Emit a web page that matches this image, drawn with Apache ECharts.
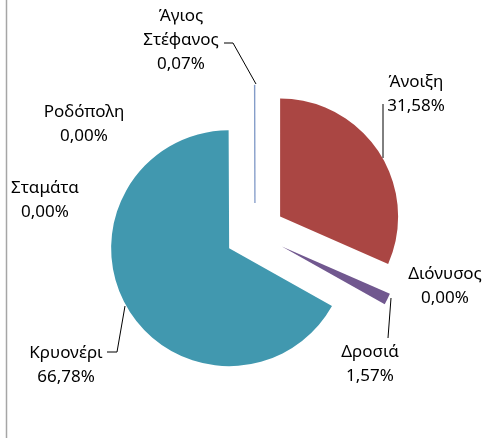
<!DOCTYPE html>
<html>
<head>
<meta charset="utf-8">
<script src="https://cdn.jsdelivr.net/npm/echarts@6/dist/echarts.min.js"></script>
<style>html,body{margin:0;padding:0;background:#fff}#c{width:493px;height:438px}</style>
</head>
<body>
<div id="c"></div>
<script>
var categories = ['Άγιος Στέφανος', 'Άνοιξη', 'Διόνυσος', 'Δροσιά', 'Κρυονέρι', 'Σταμάτα', 'Ροδόπολη'];
var values = [0.07, 31.58, 0.00, 1.57, 66.78, 0.00, 0.00];
var colors = ['#4572A7', '#AA4643', '#89A54E', '#71588F', '#4198AF', '#DB843D', '#93A9CF'];

// label placement (centre of text block) and leader lines, per category index
var labelPos = [[181, 40], [416, 94], [445, 286], [370, 364], [66, 365], [45, 200], [84, 124]];
var leaders = [
  [[256, 84], [233, 43], [224, 43]],
  [[383, 158], [383, 104]],
  null,
  [[391, 298], [388, 338]],
  [[125, 306], [117, 352], [107, 352]],
  null,
  null
];

function labelText(i) {
  return categories[i].replace(' ', '\n') + '\n' + values[i].toFixed(2).replace('.', ',') + '%';
}

var graphics = [{type: 'line', shape: {x1: 6.5, y1: 0, x2: 6.5, y2: 438}, style: {stroke: '#A6A6A6', lineWidth: 1.5}}];
categories.forEach(function (c, i) {
  graphics.push({
    type: 'text', x: labelPos[i][0], y: labelPos[i][1],
    style: {
      text: labelText(i), align: 'center', verticalAlign: 'middle',
      fontFamily: 'Noto Sans', fontSize: 17, lineHeight: 24, fill: '#000'
    }
  });
  if (leaders[i]) {
    graphics.push({type: 'polyline', shape: {points: leaders[i]}, style: {stroke: '#000', lineWidth: 1, fill: null}});
  }
});

var chart = echarts.init(document.getElementById('c'));
chart.setOption({
  animation: false,
  graphic: graphics,
  series: [{
    type: 'pie',
    center: [255, 233],
    radius: [0, 118],
    startAngle: 90.25,
    clockwise: true,
    selectedMode: 'multiple',
    selectedOffset: 30,
    minAngle: 0,
    itemStyle: {borderWidth: 0},
    emphasis: {disabled: true},
    label: {show: false},
    labelLine: {show: false},
    data: categories.map(function (c, i) {
      var st = {color: colors[i]};
      if (i === 0) { st.borderColor = '#7F98C6'; st.borderWidth = 0.8; }
      return {name: c, value: values[i], selected: true, itemStyle: st};
    })
  }]
});
</script>
</body>
</html>
